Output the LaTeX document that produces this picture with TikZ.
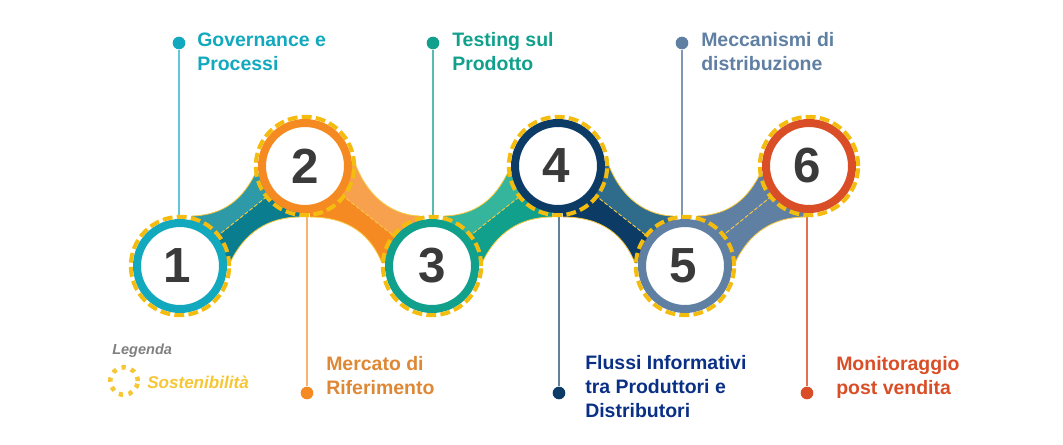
\documentclass[tikz,border=0pt]{standalone}
\usepackage{fontspec}
\setmainfont{Liberation Sans}
\pgfdeclarelayer{bg}
\pgfsetlayers{bg,main}
\definecolor{cA}{HTML}{12A9BE}\definecolor{cAl}{HTML}{2E9AA8}\definecolor{cAd}{HTML}{0A7D8F}
\definecolor{cB}{HTML}{F58A22}\definecolor{cBl}{HTML}{F7A04E}
\definecolor{cC}{HTML}{10A08C}\definecolor{cCl}{HTML}{35B59B}
\definecolor{cD}{HTML}{0C3C66}\definecolor{cDl}{HTML}{2F6B8A}
\definecolor{cE}{HTML}{5F7FA3}
\definecolor{cF}{HTML}{D94E26}
\definecolor{gold}{HTML}{F5BC10}
\definecolor{numc}{HTML}{3A3A3A}
\tikzset{
  ringnode/.style={circle,draw=#1,line width=6pt,fill=white,minimum size=64.5pt,inner sep=0pt,
    font=\fontsize{37}{37}\selectfont\bfseries,text=numc},
  dashring/.style={draw=gold,line width=3pt,dash pattern=on 7.4pt off 3.2pt},
  midline/.style={draw=gold!80!white,line width=0.7pt,dash pattern=on 3pt off 1.5pt},
  edgeline/.style={draw=gold!80!white,line width=0.6pt},
  dotnode/.style={circle,fill=#1,inner sep=0pt,minimum size=9.5pt},
  stem/.style={draw=#1,line width=0.8pt},
  caption/.style={anchor=west,align=left,text=#1,inner sep=0pt,
    font=\fontsize{14.6}{18}\selectfont\bfseries},
}
% up-bridge: from lower ring #1 to upper ring #2
\newcommand{\bridgeup}[4]{%
  \begin{scope}[shift={(#1.center)}]
    \fill[#3] (12,-50) .. controls (45,-51) and (63,-68) .. (75,-92) -- (#2.center) -- (#1.center) -- cycle;
    \fill[#4] (#1.center) -- (#2.center) -- (120,-49) .. controls (88,-49) and (64,-33) .. (50,-3) -- cycle;
    \draw[edgeline] (12,-50) .. controls (45,-51) and (63,-68) .. (75,-92);
    \draw[edgeline] (120,-49) .. controls (88,-49) and (64,-33) .. (50,-3);
  \end{scope}
  \draw[midline] (#1) -- (#2);}
% down-bridge: from upper ring #1 to lower ring #2
\newcommand{\bridgedown}[4]{%
  \begin{scope}[shift={(#1.center)}]
    \fill[#3] (50,-3) .. controls (60,25) and (82,49) .. (115,50) -- (#2.center) -- (#1.center) -- cycle;
    \fill[#4] (#1.center) -- (#2.center) -- (77,97) .. controls (66,70) and (45,51) .. (5,51) -- cycle;
    \draw[edgeline] (50,-3) .. controls (60,25) and (82,49) .. (115,50);
    \draw[edgeline] (77,97) .. controls (66,70) and (45,51) .. (5,51);
  \end{scope}
  \draw[midline] (#1) -- (#2);}
\begin{document}
\begin{tikzpicture}[x=0.75pt,y=-0.75pt]
\useasboundingbox (0,0) rectangle (1063,444);
% rings
\node[ringnode=cA] (r1) at (180,266) {\kern-4pt 1};
\node[ringnode=cB] (r2) at (305,166) {2};
\node[ringnode=cC] (r3) at (432,266) {3};
\node[ringnode=cD] (r4) at (558,166) {\kern-2pt 4};
\node[ringnode=cE] (r5) at (685,266) {\kern-3pt 5};
\node[ringnode=cF] (r6) at (809,166) {\kern-2pt 6};
\foreach \r in {r1,r2,r3,r4,r5,r6}{\draw[dashring] (\r.center) circle[radius=36.9pt];}
% dots
\node[dotnode=cA] (d1) at (179,43) {};
\node[dotnode=cB] (d2) at (307,393) {};
\node[dotnode=cC] (d3) at (433,43) {};
\node[dotnode=cD] (d4) at (559,393) {};
\node[dotnode=cE] (d5) at (682,43) {};
\node[dotnode=cF] (d6) at (807,393) {};
\begin{pgfonlayer}{bg}
  \bridgeup{r1}{r2}{cAl}{cAd}
  \bridgedown{r2}{r3}{cBl}{cB}
  \bridgeup{r3}{r4}{cCl}{cC}
  \bridgedown{r4}{r5}{cDl}{cD}
  \bridgeup{r5}{r6}{cE}{cE}
  \draw[stem=cA!65!white] (d1) -- (d1 |- r1.north);
  \draw[stem=cB!65!white] (d2) -- (d2 |- r2.south);
  \draw[stem=cC!70!white] (d3) -- (d3 |- r3.north);
  \draw[stem=cD!65!white] (d4) -- (d4 |- r4.south);
  \draw[stem=cE!80!white] (d5) -- (d5 |- r5.north);
  \draw[stem=cF!80!white] (d6) -- (d6 |- r6.south);
\end{pgfonlayer}
% captions
\node[caption=cA] (t1) at (197,52) {Governance e\\Processi};
\node[caption=cC] (t3) at (452,52) {Testing sul\\Prodotto};
\node[caption=cE] (t5) at (701,52) {Meccanismi di\\distribuzione};
\node[caption=cB!80!gray] (t2) at (326,376) {Mercato di\\Riferimento};
\node[caption=cD!80!blue] (t4) at (585,387) {Flussi Informativi\\tra Produttori e\\Distributori};
\node[caption=cF] (t6) at (836,377) {Monitoraggio\\post vendita};
% legend
\node[anchor=west,inner sep=0pt,text=black!50,font=\fontsize{10.9}{13}\selectfont\bfseries\itshape] (lg) at (112,351) {Legenda};
\node[anchor=west,inner sep=0pt,text=gold!85!white,font=\fontsize{12.8}{15}\selectfont\bfseries\itshape] (ls) at (147,382) {Sostenibilità};
\coordinate (lc) at (124,381);
\draw[draw=gold!85!white,line width=3.4pt,dash pattern=on 3.2pt off 4.2pt] (lc) circle[radius=10.3pt];
\end{tikzpicture}
\end{document}
